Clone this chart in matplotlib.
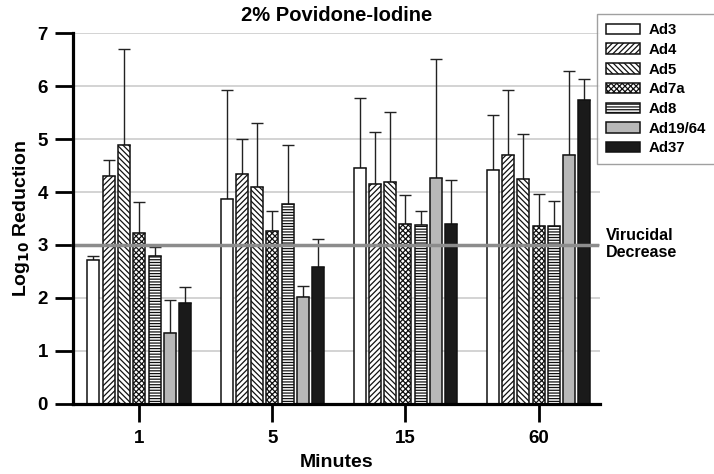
import numpy as np
import matplotlib
matplotlib.use('Agg')
from matplotlib import pyplot as plt

times = ['1', '5', '15', '60']
strains = ['Ad3', 'Ad4', 'Ad5', 'Ad7a', 'Ad8', 'Ad19/64', 'Ad37']

# mean log10 reduction per strain, one value per time point
ad3 = [2.71, 3.87, 4.45, 4.42]
ad4 = [4.31, 4.34, 4.15, 4.70]
ad5 = [4.89, 4.09, 4.19, 4.25]
ad7a = [3.23, 3.26, 3.40, 3.35]
ad8 = [2.79, 3.78, 3.38, 3.35]
ad19 = [1.34, 2.02, 4.26, 4.70]
ad37 = [1.91, 2.58, 3.39, 5.74]

# upper error (SD)
ad3_err = [0.08, 2.05, 1.32, 1.03]
ad4_err = [0.29, 0.67, 0.98, 1.22]
ad5_err = [1.81, 1.22, 1.33, 0.84]
ad7a_err = [0.58, 0.39, 0.54, 0.61]
ad8_err = [0.18, 1.11, 0.27, 0.49]
ad19_err = [0.62, 0.21, 2.26, 1.58]
ad37_err = [0.30, 0.53, 0.84, 0.39]

means = [ad3, ad4, ad5, ad7a, ad8, ad19, ad37]
errs = [ad3_err, ad4_err, ad5_err, ad7a_err, ad8_err, ad19_err, ad37_err]
fills = ['white', 'white', 'white', 'white', 'white', '#b8b8b8', '#1a1a1a']
hatches = ['', '//////', '\\\\\\\\\\\\', 'xxxxxx', '------', '', '']

plt.rcParams['hatch.linewidth'] = 0.9
plt.rcParams['font.family'] = ['Liberation Sans', 'DejaVu Sans']
plt.rcParams['font.weight'] = 'bold'

fig = plt.figure(figsize=(7.14, 4.74), dpi=100)
ax = fig.add_axes([0.102, 0.148, 0.738, 0.782])

x = np.arange(len(times))
step = 0.115
width = 0.09

for i, name in enumerate(strains):
    pos = x + (i - 3) * step
    ax.bar(pos, means[i], width, color=fills[i], edgecolor='#111111',
           hatch=hatches[i], linewidth=1.1, label=name, zorder=3)
    ax.errorbar(pos, means[i], yerr=[np.zeros(4), errs[i]], fmt='none',
                ecolor='#222222', elinewidth=1.0, capsize=4, capthick=1.0, zorder=2)

ax.axhline(3, color='#8c8c8c', linewidth=2.5, zorder=4, clip_on=False, xmax=0.995)
ax.text(1.012, 3.02, 'Virucidal\nDecrease', transform=ax.get_yaxis_transform(),
        ha='left', va='center', fontsize=11.5, fontweight='bold', linespacing=1.15)

ax.set_xlim(-0.5, 3.46)
ax.set_ylim(0, 7)
ax.set_xticks(x)
ax.set_xticklabels(times)
ax.set_yticks(range(8))
ax.yaxis.grid(True, color='#cccccc', linewidth=1.2, zorder=0)
ax.set_axisbelow(True)

for s in ['top', 'right']:
    ax.spines[s].set_visible(False)
for s in ['left', 'bottom']:
    ax.spines[s].set_linewidth(2.3)
    ax.spines[s].set_zorder(5)
ax.tick_params(axis='both', direction='out', length=13, width=2, labelsize=13.5, pad=5)
ax.tick_params(axis='x', labelsize=13.5, pad=6)

ax.set_title('2% Povidone-Iodine', fontsize=14.5, fontweight='bold', pad=9)
ax.set_xlabel('Minutes', fontsize=14, fontweight='bold', labelpad=5)
ax.set_ylabel('Log$_{\\mathbf{10}}$ Reduction', fontsize=14, fontweight='bold', labelpad=4)

leg = ax.legend(loc='upper left', bbox_to_anchor=(0.994, 1.051), fontsize=10.8,
                frameon=True, fancybox=False, edgecolor='#888888',
                handlelength=2.3, handleheight=0.7, handletextpad=0.6,
                borderpad=0.6, labelspacing=0.38, borderaxespad=0)
leg.get_frame().set_linewidth(1.0)

fig.savefig('out.png', dpi=100)
